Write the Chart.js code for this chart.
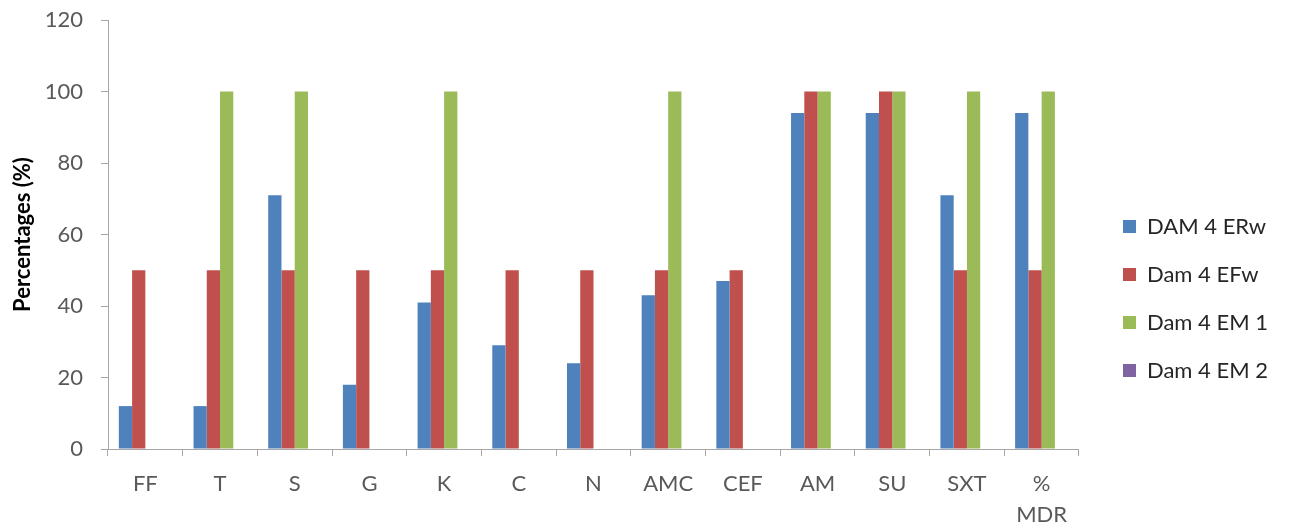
<!DOCTYPE html>
<html>
<head>
<meta charset="utf-8">
<script src="https://cdn.jsdelivr.net/npm/chart.js@4/dist/chart.umd.min.js"></script>
<style>
  html, body { margin: 0; padding: 0; background: #ffffff; }
  #wrap { width: 1289px; height: 529px; position: relative; }
</style>
</head>
<body>
<div id="wrap"><canvas id="c" width="1289" height="529"></canvas></div>
<script>
// Antibiotic categories along the x axis
const categories = ['FF', 'T', 'S', 'G', 'K', 'C', 'N', 'AMC', 'CEF', 'AM', 'SU', 'SXT', ['%', 'MDR']];

// Series values (percentages)
const seriesNames = ['DAM 4 ERw', 'Dam 4 EFw', 'Dam 4 EM 1', 'Dam 4 EM 2'];
const damERw = [12, 12, 71, 18, 41, 29, 24, 43, 47, 94, 94, 71, 94];
const damEFw = [50, 50, 50, 50, 50, 50, 50, 50, 50, 100, 100, 50, 50];
const damEM1 = [0, 100, 100, 0, 100, 0, 0, 100, 0, 100, 100, 100, 100];
const damEM2 = [0, 0, 0, 0, 0, 0, 0, 0, 0, 0, 0, 0, 0];

const yTicks = [0, 20, 40, 60, 80, 100, 120];
const colors = ['#4F81BD', '#C0504D', '#9BBB59', '#8064A2'];

const FONT = 'Lato, "Liberation Sans", sans-serif';
const axisGrey = '#A6A6A6';
const textGrey = '#595959';

const allSeries = [damERw, damEFw, damEM1, damEM2];
const datasets = allSeries.map((vals, i) => ({
  label: seriesNames[i],
  data: vals,
  backgroundColor: colors[i],
  borderWidth: 0,
  categoryPercentage: 0.71,
  barPercentage: 1.0
}));

// Nudges the legend block inside the space the layout gives it
const legendShift = {
  id: 'legendShift',
  afterLayout(chart, args, opts) {
    const lg = chart.legend;
    if (!lg) return;
    lg.left += opts.dx; lg.right += opts.dx;
    lg.top += opts.dy; lg.bottom += opts.dy;
  }
};

new Chart(document.getElementById('c'), {
  type: 'bar',
  data: { labels: categories, datasets },
  plugins: [legendShift],
  options: {
    responsive: false,
    animation: false,
    layout: { padding: { top: 0, left: 10, right: 29, bottom: 0 } },
    plugins: {
      tooltip: { enabled: false },
      legendShift: { dx: 18, dy: 34 },
      legend: {
        position: 'right',
        align: 'center',
        labels: {
          font: { family: FONT, size: 22 },
          color: '#262626',
          boxWidth: 13,
          boxHeight: 13,
          padding: 26
        }
      }
    },
    scales: {
      x: {
        afterFit: (scale) => { scale.height = 80; },
        grid: {
          offset: true,
          drawOnChartArea: false,
          drawTicks: true,
          tickLength: 7,
          color: axisGrey
        },
        border: { color: axisGrey, width: 1 },
        ticks: {
          font: { family: FONT, size: 22, lineHeight: 1.4 },
          color: textGrey,
          maxRotation: 0,
          padding: 13
        }
      },
      y: {
        min: 0,
        max: 120,
        afterBuildTicks: (axis) => { axis.ticks = yTicks.map(v => ({ value: v })); },
        afterFit: (scale) => { scale.width = 98; scale.paddingTop = 20; },
        grid: {
          drawOnChartArea: false,
          drawTicks: true,
          tickLength: 7,
          color: axisGrey
        },
        border: { color: axisGrey, width: 1 },
        ticks: {
          font: { family: FONT, size: 22 },
          color: textGrey,
          padding: 18
        },
        title: {
          display: true,
          text: 'Percentages (%)',
          font: { family: FONT, size: 22, weight: 'bold' },
          color: '#000000',
          padding: { top: 0, bottom: 0 }
        }
      }
    }
  }
});
</script>
</body>
</html>
